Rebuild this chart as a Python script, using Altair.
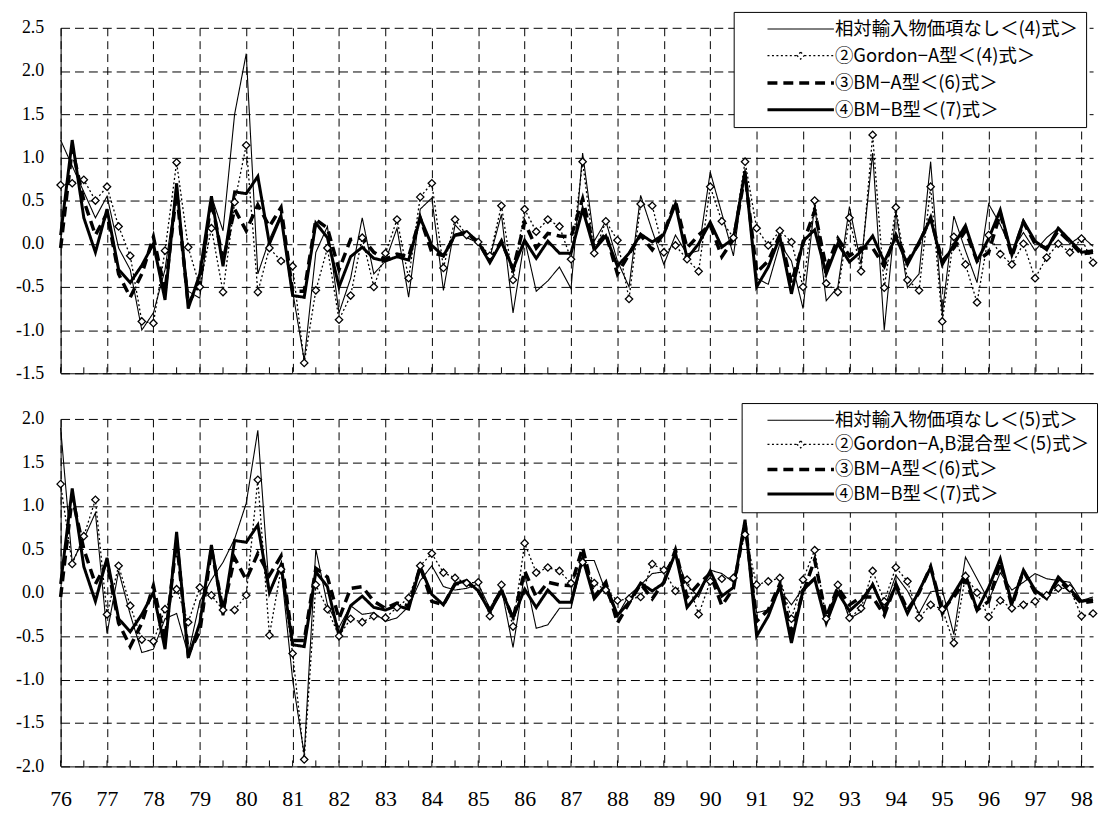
import altair as alt
import pandas as pd

years = ["76", "77", "78", "79", "80", "81", "82", "83", "84", "85", "86", "87",
         "88", "89", "90", "91", "92", "93", "94", "95", "96", "97", "98"]
quarters = [y + "Q" + str(q) for y in years for q in (1, 2, 3, 4)][:90]

top_labels = ["相対輸入物価項なし＜(4)式＞", "②Gordon−A型＜(4)式＞",
              "③BM−A型＜(6)式＞", "④BM−B型＜(7)式＞"]
bot_labels = ["相対輸入物価項なし＜(5)式＞", "②Gordon−A,B混合型＜(5)式＞",
              "③BM−A型＜(6)式＞", "④BM−B型＜(7)式＞"]

y_ticks_top = [-1.5, -1.0, -0.5, 0.0, 0.5, 1.0, 1.5, 2.0, 2.5]
y_ticks_bot = [-2.0, -1.5, -1.0, -0.5, 0.0, 0.5, 1.0, 1.5, 2.0]

# upper panel: no relative import price term, eq.(4)
top_s1 = [1.2, 0.9, 0.6, 0.3, 0.55, -0.05, -0.3, -1.0, -0.8, -0.3, 0.65, -0.55, -0.63, 0.55, 0.15, 1.5,
          2.2, -0.35, 0.05, 0.35, -0.55, -1.35, -0.1, 0.2, -0.8, -0.4, 0.3, -0.35, -0.2, 0.18, -0.62, 0.4,
          0.53, -0.54, 0.22, 0.07, 0.01, -0.16, 0.34, -0.8, 0.05, -0.55, -0.43, -0.27, -0.52, 1.05, 0.03, 0.26,
          -0.2, -0.5, 0.56, 0.15, -0.24, 0.1, -0.12, -0.08, 0.83, 0.35, -0.14, 0.87, -0.4, -0.47, 0.0, -0.2,
          -0.75, 0.45, -0.66, -0.5, 0.43, -0.24, 1.05, -1.0, 0.37, -0.51, -0.35, 0.95, -0.81, 0.32, -0.08, -0.45,
          0.46, 0.22, -0.08, 0.13, -0.08, 0.07, 0.18, 0.0, 0.09, -0.03]
# upper panel: Gordon-A type, eq.(4)
top_s2 = [0.68, 0.7, 0.74, 0.5, 0.66, 0.2, -0.14, -0.9, -0.92, -0.08, 0.94, -0.04, -0.5, 0.18, -0.56, 0.48,
          1.14, -0.56, -0.05, -0.2, -0.26, -1.38, -0.54, -0.05, -0.88, -0.6, 0.07, -0.5, -0.11, 0.28, -0.4, 0.54,
          0.7, -0.28, 0.28, 0.1, 0.02, -0.14, 0.44, -0.42, 0.4, 0.14, 0.28, 0.2, -0.18, 0.95, -0.11, 0.26,
          0.04, -0.64, 0.46, 0.44, -0.1, -0.02, -0.18, -0.32, 0.66, 0.26, 0.07, 0.95, 0.18, -0.02, 0.15, 0.02,
          -0.5, 0.5, -0.46, -0.56, 0.3, -0.32, 1.26, -0.51, 0.42, -0.42, -0.54, 0.66, -0.9, 0.08, -0.24, -0.68,
          0.1, -0.12, -0.24, 0.0, -0.4, -0.16, 0.0, -0.1, 0.06, -0.22]
# BM-A type, eq.(6) (same in both panels)
bm_a = [-0.05, 1.1, 0.5, 0.1, 0.35, -0.35, -0.62, -0.35, 0.08, -0.55, 0.6, -0.7, -0.45, 0.5, -0.2, 0.4,
        0.15, 0.45, 0.2, 0.42, -0.55, -0.55, 0.28, 0.18, -0.3, 0.05, 0.07, -0.1, -0.18, -0.12, -0.15, 0.3,
        -0.1, -0.14, 0.1, 0.12, 0.02, -0.2, 0.03, -0.3, 0.25, -0.05, 0.12, 0.09, 0.08, 0.52, -0.05, 0.12,
        -0.35, -0.12, 0.1, -0.07, 0.12, 0.49, -0.05, 0.1, 0.22, -0.15, 0.05, 0.8, -0.33, -0.2, 0.1, -0.45,
        0.0, 0.38, -0.28, 0.06, -0.14, -0.05, -0.05, -0.26, 0.1, -0.2, 0.0, 0.3, -0.2, -0.05, 0.15, -0.2,
        -0.1, 0.35, -0.15, 0.25, 0.0, -0.05, 0.15, 0.02, -0.12, -0.1]
# BM-B type, eq.(7) (same in both panels)
bm_b = [0.1, 1.2, 0.3, -0.1, 0.4, -0.3, -0.45, -0.25, 0.0, -0.65, 0.7, -0.75, -0.35, 0.55, -0.26, 0.6,
        0.58, 0.78, 0.0, 0.32, -0.6, -0.62, 0.24, 0.07, -0.5, -0.15, -0.04, -0.17, -0.2, -0.15, -0.19, 0.3,
        -0.02, -0.14, 0.1, 0.14, 0.02, -0.22, 0.02, -0.29, 0.04, -0.17, 0.03, -0.11, -0.11, 0.4, -0.07, 0.09,
        -0.26, -0.11, 0.11, 0.02, 0.11, 0.46, -0.17, 0.0, 0.25, -0.04, 0.06, 0.84, -0.5, -0.27, 0.08, -0.58,
        0.03, 0.16, -0.35, 0.0, -0.21, -0.09, 0.09, -0.21, 0.08, -0.24, 0.02, 0.29, -0.24, -0.01, 0.21, -0.2,
        0.06, 0.39, -0.13, 0.26, 0.03, -0.07, 0.18, 0.04, -0.1, -0.08]
# lower panel: no relative import price term, eq.(5)
bot_s1 = [1.9, 0.35, 0.62, 0.92, -0.47, 0.25, -0.25, -0.69, -0.65, -0.3, -0.24, -0.71, -0.1, 0.15, 0.35, 0.62,
          1.03, 1.87, 0.0, 0.28, -1.0, -1.86, 0.5, -0.14, -0.4, -0.15, -0.25, -0.23, -0.33, -0.29, -0.16, 0.14,
          0.31, 0.07, 0.03, 0.05, 0.1, -0.18, 0.05, -0.63, 0.22, -0.41, -0.37, -0.18, -0.18, 0.37, 0.37, 0.01,
          -0.26, -0.03, 0.09, 0.22, 0.24, 0.43, 0.09, -0.05, 0.26, 0.22, 0.12, 0.73, -0.23, -0.2, 0.03, -0.14,
          0.05, 0.18, -0.33, 0.08, -0.3, -0.22, 0.12, -0.18, 0.2, 0.02, -0.24, 0.01, 0.03, -0.48, 0.41, 0.16,
          -0.09, 0.23, 0.03, 0.12, 0.22, 0.16, 0.14, 0.12, -0.09, -0.05]
# lower panel: Gordon-A,B mixed type, eq.(5)
bot_s2 = [1.25, 0.33, 0.65, 1.07, -0.25, 0.31, -0.15, -0.54, -0.56, -0.19, 0.04, -0.34, 0.06, -0.03, -0.2, -0.2,
          -0.03, 1.3, -0.49, 0.27, -0.7, -1.92, 0.09, -0.19, -0.5, -0.3, -0.34, -0.27, -0.29, -0.17, -0.06, 0.31,
          0.45, 0.23, 0.17, 0.11, 0.12, -0.27, 0.09, -0.39, 0.57, 0.23, 0.29, 0.25, 0.11, 0.35, 0.11, 0.03,
          -0.09, -0.07, -0.05, 0.33, 0.26, 0.02, 0.15, -0.25, 0.13, 0.16, 0.17, 0.67, 0.09, 0.13, 0.17, -0.3,
          0.15, 0.49, -0.3, 0.09, -0.29, -0.18, 0.25, -0.1, 0.29, 0.13, -0.29, -0.14, -0.19, -0.58, 0.19, 0.0,
          -0.28, -0.09, -0.18, -0.14, -0.1, -0.03, 0.05, 0.05, -0.27, -0.24]

# legend symbol paths (unit = half of sqrt(symbolSize))
LINE = "M-4,0H4"
LINE_DIAMOND = "M-4,0H-0.45M0.45,0H4M0,-0.42L0.43,0L0,0.42L-0.43,0Z"
SHAPES = [LINE, LINE_DIAMOND, LINE, LINE]
DASHES = [[1, 0], [2, 2.5], [10, 6], [1, 0]]
WIDTHS = [1.1, 1.3, 3.5, 3]
Y_LABEL_EXPR = "replace(format(datum.value, '.1f'), '\u2212', '-')"
PLOT_W = 1040


def panel(labels, s1, s2, ydom, yticks, h, lx, ly, rowpad, symoff, laboff, show_labels):
    df = pd.DataFrame({
        "quarter": quarters * 4,
        "series": [lab for lab in labels for _ in quarters],
        "value": s1 + s2 + bm_a + bm_b,
    })
    dia = pd.DataFrame({"quarter": quarters, "value": s2})
    tick_df = pd.DataFrame({"quarter": quarters[::2]})
    leg_df = pd.DataFrame({"series": labels})

    xscale = alt.Scale(type="point", padding=0, domain=quarters)
    yscale = alt.Scale(domain=ydom, nice=False, zero=False)
    xkw = dict(values=quarters[::4], grid=True, gridDash=[8, 5], gridColor="black", gridOpacity=1,
               gridWidth=1, ticks=False, domainColor="black", domainWidth=1, title=None, labelAngle=0)
    if show_labels:
        xkw.update(labelExpr="substring(datum.value, 0, 2)", labelFont="Liberation Serif",
                   labelFontSize=22, labelColor="black", labelPadding=22)
    else:
        xkw.update(labels=False)
    x_enc = alt.X("quarter:O", sort=quarters, scale=xscale, axis=alt.Axis(**xkw))
    y_enc = alt.Y("value:Q", scale=yscale, axis=alt.Axis(
        values=yticks, labelExpr=Y_LABEL_EXPR, grid=True, gridDash=[9, 5], gridColor="black",
        gridOpacity=1, gridWidth=1, ticks=False, domainColor="black", domainWidth=1, title=None,
        labelFont="Liberation Serif", labelFontSize=18, labelColor="black", labelPadding=17,
        minExtent=52))

    leg = alt.Legend(title=None, orient="none", legendX=lx, legendY=ly, direction="vertical",
                     strokeColor="black", fillColor="white", padding=8, cornerRadius=0,
                     symbolSize=280, symbolOffset=symoff, labelOffset=laboff, rowPadding=rowpad,
                     labelFont="Noto Sans CJK JP", labelFontSize=18.5, labelColor="black",
                     labelLimit=500, symbolOpacity=1, symbolStrokeColor="black")
    dash = alt.StrokeDash("series:N", scale=alt.Scale(domain=labels, range=DASHES), legend=leg)
    wid = alt.StrokeWidth("series:N", scale=alt.Scale(type="ordinal", domain=labels, range=WIDTHS),
                          legend=leg)
    shp = alt.Shape("series:N", scale=alt.Scale(domain=labels, range=SHAPES), legend=leg)

    ticks = alt.Chart(tick_df).mark_rule(color="black", strokeWidth=1).encode(
        x=x_enc, y=alt.value(h - 6), y2=alt.value(h))
    lines = alt.Chart(df).mark_line(color="black").encode(
        x=x_enc, y=y_enc, strokeDash=dash, strokeWidth=wid)
    diamonds = alt.Chart(dia).mark_point(shape="diamond", filled=True, fill="white", stroke="black",
                                         strokeWidth=1.3, size=55, opacity=1).encode(x=x_enc, y=y_enc)
    legend_layer = alt.Chart(leg_df).mark_point(filled=False, color="black", opacity=0).encode(
        shape=shp, strokeDash=dash, strokeWidth=wid)
    return alt.layer(ticks, lines, diamonds, legend_layer).properties(width=PLOT_W, height=h)


top = panel(top_labels, top_s1, top_s2, [-1.5, 2.5], y_ticks_top, 348, 678, -16, 7.5, 49, 24, False)
bot = panel(bot_labels, bot_s1, bot_s2, [-2.0, 2.0], y_ticks_bot, 350, 686, -16, 5.2, 41, 24, True)

chart = alt.vconcat(top, bot, spacing=19).resolve_scale(
    x="independent", y="independent", strokeDash="independent", strokeWidth="independent",
    shape="independent").resolve_legend(
    strokeDash="independent", strokeWidth="independent", shape="independent").properties(
    padding=0).configure_view(stroke="transparent")

chart.save("out.html", embed_options={"renderer": "svg", "actions": False})
